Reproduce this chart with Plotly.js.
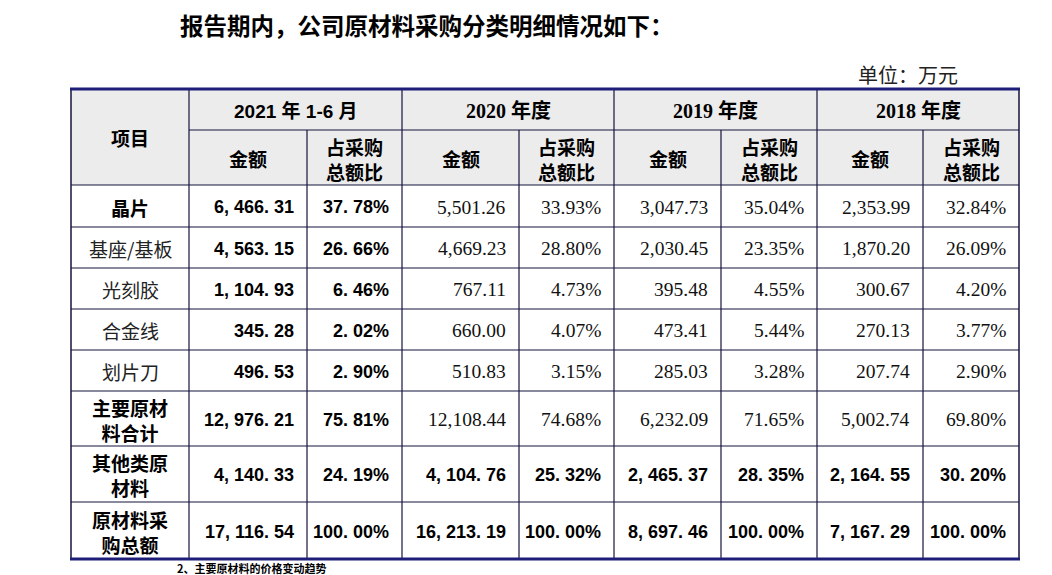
<!DOCTYPE html>
<html>
<head>
<meta charset="utf-8">
<script src="https://cdn.plot.ly/plotly-3.0.1.min.js"></script>
<style>html,body{margin:0;padding:0;background:#fff;}#chart{width:1052px;height:575px;}</style>
</head>
<body>
<div id="chart"></div>
<script>
// ---- data ----
const pageTitle = '报告期内，公司原材料采购分类明细情况如下：';
const unitLabel = '单位：万元';
const nextHeading = '2、主要原材料的价格变动趋势';
const itemHeader = '项目';
const amountHeader = '金额';
const shareHeader = '占采购<br>总额比';
const periods = ['2021 年 1-6 月', '2020 年度', '2019 年度', '2018 年度'];
const items = ['晶片', '基座/基板', '光刻胶', '合金线', '划片刀', '主要原材<br>料合计', '其他类原<br>材料', '原材料采<br>购总额'];
const amt2021 = [6466.31, 4563.15, 1104.93, 345.28, 496.53, 12976.21, 4140.33, 17116.54];
const pct2021 = [37.78, 26.66, 6.46, 2.02, 2.90, 75.81, 24.19, 100.00];
const amt2020 = [5501.26, 4669.23, 767.11, 660.00, 510.83, 12108.44, 4104.76, 16213.19];
const pct2020 = [33.93, 28.80, 4.73, 4.07, 3.15, 74.68, 25.32, 100.00];
const amt2019 = [3047.73, 2030.45, 395.48, 473.41, 285.03, 6232.09, 2465.37, 8697.46];
const pct2019 = [35.04, 23.35, 4.55, 5.44, 3.28, 71.65, 28.35, 100.00];
const amt2018 = [2353.99, 1870.20, 300.67, 270.13, 207.74, 5002.74, 2164.55, 7167.29];
const pct2018 = [32.84, 26.09, 4.20, 3.77, 2.90, 69.80, 30.20, 100.00];
const boldItems = [true, false, false, false, false, true, true, true];
const boldRows = [false, false, false, false, false, false, true, true];

// ---- layout geometry ----
const colX = [71, 189, 307, 402, 519, 614, 721, 817, 923, 1019];
const rowY = [89, 130, 185, 227, 268, 309, 350, 391, 446, 502, 559];
const PAD = 11;
const GRID = '#14143c';
const NAVY = '#1e1e78';

const SANS_B = {family: 'Liberation Sans, Noto Sans CJK SC, sans-serif', size: 18, color: '#000', weight: 'bold'};
const SANS_BH = {family: 'Liberation Sans, Noto Sans CJK SC, sans-serif', size: 19, color: '#000', weight: 'bold'};
const SERIF = {family: 'Liberation Serif, Noto Sans CJK SC, serif', size: 19.5, color: '#111'};
const CJK = {family: 'Noto Sans CJK SC, sans-serif', size: 19, color: '#222'};
const CJK_B = {family: 'Noto Sans CJK SC, sans-serif', size: 19, color: '#000', weight: 'bold'};
const HEAD_SERIF = {family: 'Liberation Serif, Noto Sans CJK SC, serif', size: 20, color: '#000', weight: 'bold'};

function fmtAmt(v, bold) {
  let s = v.toLocaleString('en-US', {minimumFractionDigits: 2, maximumFractionDigits: 2});
  return bold ? s.replace(/,/g, ', ').replace(/\./g, '. ') : s;
}
function fmtPct(v, bold) {
  let s = v.toFixed(2) + '%';
  return bold ? s.replace(/\./g, '. ') : s;
}

const ann = [];
const shapes = [];
function txt(x, y, text, font, xanchor, yanchor) {
  ann.push({x: x, y: y, xref: 'x', yref: 'y', text: text, showarrow: false,
    xanchor: xanchor || 'center', yanchor: yanchor || 'middle', font: font});
}

// header background
shapes.push({type: 'rect', xref: 'x', yref: 'y', x0: colX[0], x1: colX[9], y0: rowY[0], y1: rowY[2],
  fillcolor: '#ececec', line: {width: 0}, layer: 'below'});

// header texts
txt((colX[0] + colX[1]) / 2, (rowY[0] + rowY[2]) / 2, itemHeader, CJK_B);
periods.forEach((p, i) => {
  const x0 = colX[1 + 2 * i], x1 = colX[3 + 2 * i];
  txt((x0 + x1) / 2, (rowY[0] + rowY[1]) / 2 + 1, p, i === 0 ? SANS_BH : HEAD_SERIF);
  txt((colX[1 + 2 * i] + colX[2 + 2 * i]) / 2, (rowY[1] + rowY[2]) / 2 + 1, amountHeader, CJK_B);
  txt((colX[2 + 2 * i] + colX[3 + 2 * i]) / 2, (rowY[1] + rowY[2]) / 2 + 1, shareHeader, CJK_B);
});

// body
const amts = [amt2021, amt2020, amt2019, amt2018];
const pcts = [pct2021, pct2020, pct2019, pct2018];
items.forEach((it, r) => {
  const yc = (rowY[2 + r] + rowY[3 + r]) / 2 + 1;
  txt((colX[0] + colX[1]) / 2, yc, it, boldItems[r] ? CJK_B : CJK);
  for (let p = 0; p < 4; p++) {
    const bold = p === 0 || boldRows[r];
    txt(colX[2 + 2 * p] - PAD, yc, fmtAmt(amts[p][r], bold), bold ? SANS_B : SERIF, 'right');
    txt(colX[3 + 2 * p] - PAD, yc, fmtPct(pcts[p][r], bold), bold ? SANS_B : SERIF, 'right');
  }
});

// grid lines
function line(x0, y0, x1, y1, color, width) {
  shapes.push({type: 'line', xref: 'x', yref: 'y', x0: x0, y0: y0, x1: x1, y1: y1,
    line: {color: color, width: width}, layer: 'above'});
}
line(colX[1], rowY[1], colX[9], rowY[1], GRID, 1.2);
for (let k = 2; k < rowY.length - 1; k++) line(colX[0], rowY[k], colX[9], rowY[k], GRID, 1.2);
line(colX[0], rowY[0], colX[0], rowY[10], GRID, 1.5);
line(colX[9], rowY[0], colX[9], rowY[10], GRID, 1.5);
line(colX[1], rowY[0], colX[1], rowY[10], GRID, 1.2);
[3, 5, 7].forEach(c => line(colX[c], rowY[0], colX[c], rowY[10], GRID, 1.2));
[2, 4, 6, 8].forEach(c => line(colX[c], rowY[1], colX[c], rowY[10], GRID, 1.2));
line(colX[0] - 1, rowY[0], colX[9] + 1, rowY[0], NAVY, 3);
line(colX[0] - 1, rowY[10], colX[9] + 1, rowY[10], NAVY, 3);

// page texts
txt(178, 25, '<b>' + pageTitle + '</b>', {family: 'Noto Sans CJK SC, sans-serif', size: 23.5, color: '#000', weight: 'bold'}, 'left');
txt(960, 74, unitLabel, {family: 'Noto Sans CJK SC, sans-serif', size: 20, color: '#222'}, 'right');
txt(175, 567.5, nextHeading, {family: 'Noto Sans CJK SC, sans-serif', size: 11, color: '#000', weight: 'bold'}, 'left');

const layout = {
  width: 1052, height: 575,
  margin: {l: 0, r: 0, t: 0, b: 0},
  paper_bgcolor: '#fff', plot_bgcolor: '#fff',
  xaxis: {range: [0, 1052], visible: false, fixedrange: true},
  yaxis: {range: [575, 0], visible: false, fixedrange: true},
  showlegend: false,
  shapes: shapes,
  annotations: ann
};
Plotly.newPlot('chart', [{type: 'scatter', x: [], y: [], hoverinfo: 'skip'}], layout, {staticPlot: true, displayModeBar: false});
</script>
</body>
</html>
